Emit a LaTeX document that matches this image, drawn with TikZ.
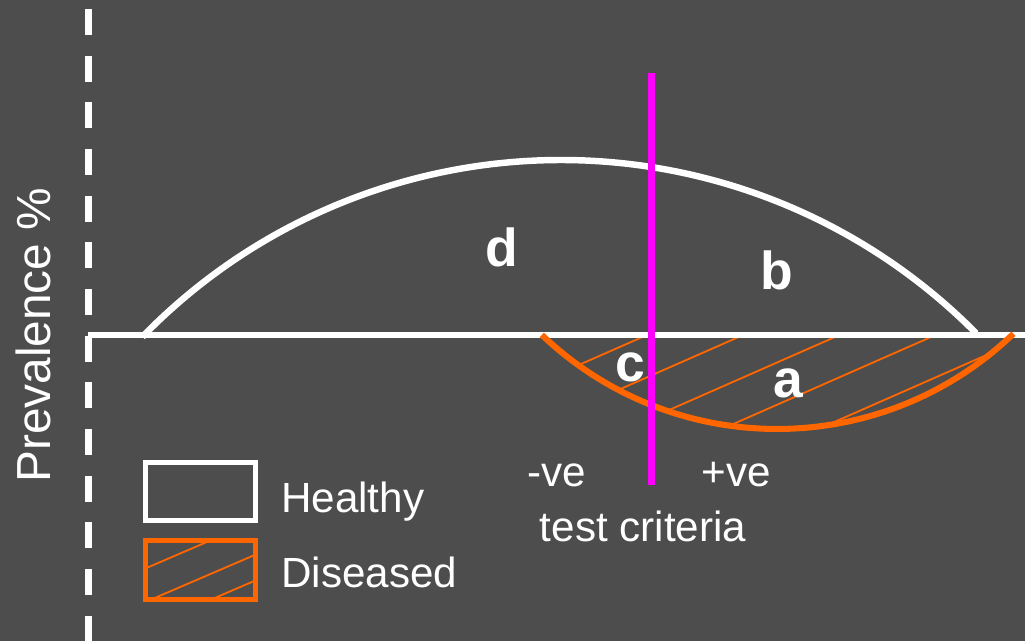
\documentclass[tikz,border=0pt]{standalone}
\usepackage{fontspec}
\setmainfont{Liberation Sans}
\definecolor{slide}{RGB}{77,77,77}
\definecolor{sick}{RGB}{255,102,0}
\definecolor{cutoff}{RGB}{255,0,255}

\begin{document}
\begin{tikzpicture}[line cap=butt,
  lbl/.style={white,inner sep=0pt,font=\fontsize{30}{36}\selectfont},
  letter/.style={white,inner sep=0pt,font=\fontsize{38}{44}\selectfont\bfseries},
  hatch/.style={sick,line width=1.3pt}]
\useasboundingbox (0,0) rectangle (25.625,16.025);
\fill[slide] (0,0) rectangle (25.625,16.025);
\coordinate (hc) at (14.025,-2.575);
\coordinate (dc) at (19.425,13.825);
% hatching under the diseased curve
\begin{scope}
\clip (dc) ++(226.4:8.525) arc[start angle=226.4,end angle=313.9,radius=8.525] -- cycle;
\foreach \x in {16.175,18.58,20.99,23.39,25.8}
  \draw[hatch] (\x,7.65) -- ++(-8,-3.52);
\end{scope}
% axes
\draw[white,line width=4.6pt] (2.2,7.65) -- (25.625,7.65);
\draw[white,line width=4.75pt,dash pattern=on 0.65cm off 0.517cm] (2.2075,15.8) -- (2.2075,0);
% healthy and diseased curves
\draw[white,line width=4.6pt] (hc) ++(135.8:14.6) arc[start angle=135.8,end angle=44.7,radius=14.6];
\draw[sick,line width=4.3pt] (dc) ++(226.4:8.525) arc[start angle=226.4,end angle=313.9,radius=8.525];
% test cut-off
\coordinate (cuttop) at (16.2875,14.2);
\coordinate (cutbot) at (16.2875,3.9);
\draw[cutoff,line width=5pt] (cuttop) -- (cutbot);
% legend
\draw[white,line width=3.5pt] (3.6375,3.0125) rectangle (6.3875,4.4625);
\begin{scope}
\clip (3.6375,1.0375) rectangle (6.3875,2.5125);
\foreach \x in {1.975,3.925,5.425}
  \draw[hatch] (\x,1.1) ++(-1,-.43) -- ++(6,2.58);
\end{scope}
\draw[sick,line width=3.5pt] (3.6375,1.0375) rectangle (6.3875,2.5125);
\node[lbl,anchor=base west] (healthy) at (7.025,3.2) {Healthy};
\node[lbl,anchor=base west] (diseased) at (7.025,1.325) {Diseased};
% labels
\node[lbl,rotate=90,anchor=base west,font=\fontsize{34}{40}\selectfont] (prev) at (1.25,3.95) {Prevalence \%};
\node[lbl,anchor=base] (neg) at (13.925,3.85) {-ve};
\node[lbl,anchor=base] (pos) at (18.4,3.85) {+ve};
\node[lbl,anchor=base] (crit) at (16.075,2.475) {test criteria};
\node[letter,anchor=base] (d) at (12.55,9.35) {d};
\node[letter,anchor=base] (b) at (19.425,8.775) {b};
\node[letter,anchor=base] (c) at (15.75,6.475) {c};
\node[letter,anchor=base] (a) at (19.7,6.075) {a};
\end{tikzpicture}
\end{document}
